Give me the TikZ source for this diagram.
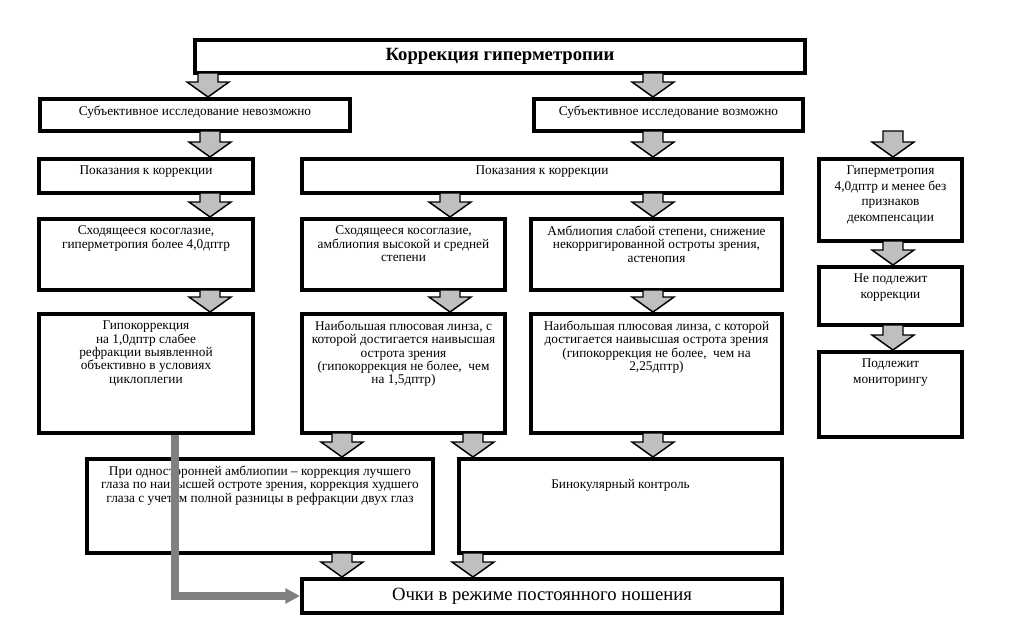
\documentclass[tikz,border=0pt]{standalone}
\usepackage{fontspec}
\setmainfont{Liberation Serif}
\usepackage{xcolor}
\usepackage{tikz}
\usetikzlibrary{arrows.meta, positioning, calc}

\begin{document}
\begin{tikzpicture}[
        x=0.75pt, y=-0.75pt,
        % Стили блоков
        box/.style 2 args={rectangle, draw=black, line width=3pt, fill=white, anchor=north west, minimum width=0.75pt*#1, minimum height=0.75pt*#2, inner sep=0pt},
        toptext/.style={anchor=north, align=center, inner xsep=2pt, inner ysep=6.5pt, font=\fontsize{10}{10}\selectfont},
        sidetext/.style={toptext, font=\fontsize{10}{11.6}\selectfont},
        bigtext/.style={font=\fontsize{14}{16}\selectfont},
        titletext/.style={font=\bfseries\fontsize{14}{16}\selectfont},
        blockarrow/.style={draw=black, line width=1.1pt, fill=black!25, line join=miter},
        feedline/.style={draw=black!50, line width=6pt, -{Triangle[length=11pt, width=11pt]}}
    ]
    \useasboundingbox (0,0) rectangle (1021,637);

    % --- 1. БЛОКИ ---
    \node[box={610}{33}, titletext] (title) at (193,38) {Коррекция гиперметропии};

    \node[box={310}{32}, label={[toptext]north:Субъективное исследование невозможно}] (subno) at (38,97) {};
    \node[box={269}{32}, label={[toptext]north:Субъективное исследование возможно}] (subyes) at (532,97) {};

    \node[box={214}{34}, label={[toptext]north:Показания к коррекции}] (indL) at (37,157) {};
    \node[box={480}{34}, label={[toptext]north:Показания к коррекции}] (indM) at (300,157) {};
    \node[box={143}{82}, label={[sidetext]north:Гиперметропия\\4,0дптр и менее без\\признаков\\декомпенсации}] (hyp) at (817,157) {};

    \node[box={214}{71}, label={[toptext]north:Сходящееся косоглазие,\\гиперметропия более 4,0дптр}] (skosL) at (37,217) {};
    \node[box={203}{71}, label={[toptext]north:Сходящееся косоглазие,\\амблиопия высокой и средней\\степени}] (skosM) at (300,217) {};
    \node[box={251}{71}, label={[toptext]north:Амблиопия слабой степени, снижение\\некорригированной остроты зрения,\\астенопия}] (ambl) at (529,217) {};
    \node[box={143}{58}, label={[sidetext]north:Не подлежит\\коррекции}] (nekorr) at (817,265) {};

    \node[box={214}{119}, label={[toptext]north:Гипокоррекция\\на 1,0дптр слабее\\рефракции выявленной\\объективно в условиях\\циклоплегии}] (hypoL) at (37,312) {};
    \node[box={203}{119}, label={[toptext]north:Наибольшая плюсовая линза, с\\которой достигается наивысшая\\острота зрения\\(гипокоррекция не более,\ \ чем\\на 1,5дптр)}] (plusM) at (300,312) {};
    \node[box={251}{119}, label={[toptext]north:Наибольшая плюсовая линза, с которой\\достигается наивысшая острота зрения\\(гипокоррекция не более,\ \ чем на\\2,25дптр)}] (plusR) at (529,312) {};
    \node[box={143}{85}, label={[sidetext]north:Подлежит\\мониторингу}] (monit) at (817,350) {};

    \node[box={346}{94}, label={[toptext]north:При односторонней амблиопии – коррекция лучшего\\глаза по наивысшей остроте зрения, коррекция худшего\\глаза с учетом полной разницы в рефракции двух глаз}] (odnost) at (85,457) {};
    \node[box={323}{94}, label={[toptext, yshift=-10pt]north:Бинокулярный контроль}] (binoc) at (457,457) {};

    \node[box={480}{34}, bigtext] (ochki) at (300,577) {Очки в режиме постоянного ношения};

    % --- 2. СТРЕЛКИ ---
    \foreach \ax/\src/\dst in {208/title/subno, 653/title/subyes, 210/subno/indL, 653/subyes/indM, 893/subyes/hyp,
        210/indL/skosL, 450/indM/skosM, 653/indM/ambl, 210/skosL/hypoL, 450/skosM/plusM, 653/ambl/plusR,
        893/hyp/nekorr, 893/nekorr/monit, 342/plusM/odnost, 473/plusM/binoc, 653/plusR/binoc,
        342/odnost/ochki, 473/binoc/ochki}
        \draw[blockarrow] ($(\ax,0 |- \src.south)+(-10,-2)$) -- ($(\ax,0 |- \dst.north)+(-10,-15)$) -- ++(-11,0)
            -- (\ax,0 |- \dst.north) -- ++(21,-15) -- ++(-11,0) -- ($(\ax,0 |- \src.south)+(10,-2)$) -- cycle;

    % Обходная линия к очкам
    \draw[feedline] ($(hypoL.south)+(29,0)$) |- (ochki.west);

\end{tikzpicture}
\end{document}
